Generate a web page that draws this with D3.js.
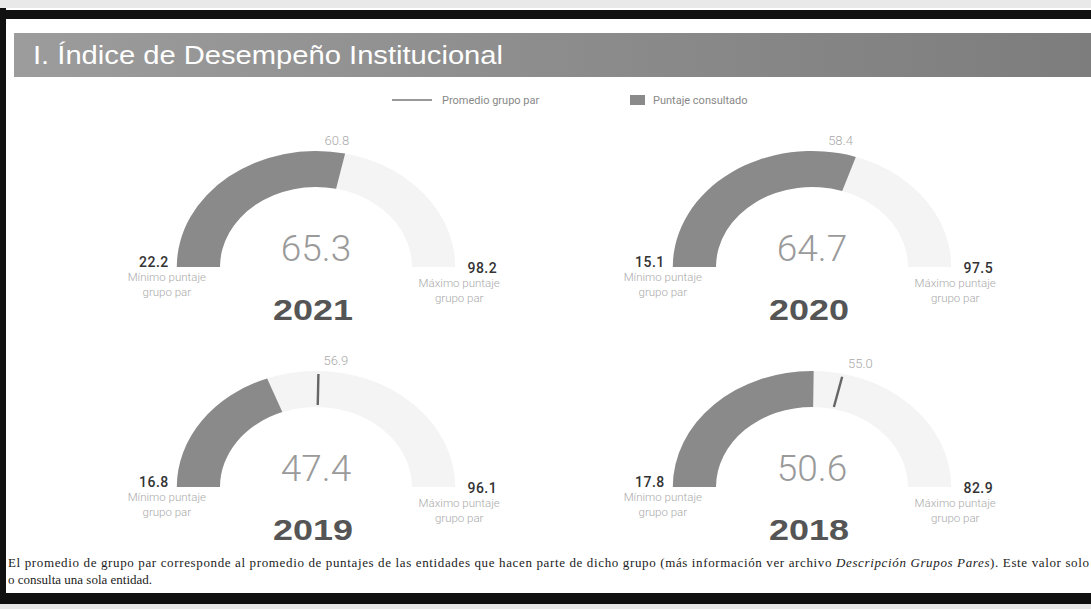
<!DOCTYPE html>
<html>
<head>
<meta charset="utf-8">
<script src="https://cdn.jsdelivr.net/npm/d3@7"></script>
<style>
  body { margin: 0; background: #e9e9e9; }
  svg { display: block; }
</style>
</head>
<body>
<script>
const years   = ["2021", "2020", "2019", "2018"];
const scores  = [65.3, 64.7, 47.4, 50.6];   // puntaje consultado
const peerAvg = [60.8, 58.4, 56.9, 55.0];   // promedio grupo par
const peerMin = [22.2, 15.1, 16.8, 17.8];
const peerMax = [98.2, 97.5, 96.1, 82.9];

const width = 1091, height = 609;
const cols = [316, 812], rows = [267, 487];
const rOut = 116, rIn = 80, sx = 1.2;   // the scan is stretched sideways

const svg = d3.select("body").append("svg")
    .attr("width", width)
    .attr("height", height);

// page + frame
svg.append("rect").attr("x", 0).attr("y", 8).attr("width", width).attr("height", 592)
    .attr("fill", "#fff");
svg.append("rect").attr("x", 0).attr("y", 8).attr("width", 6).attr("height", 592).attr("fill", "#111");
svg.append("rect").attr("x", 0).attr("y", 10).attr("width", width).attr("height", 9).attr("fill", "#111");
svg.append("rect").attr("x", 0).attr("y", 593).attr("width", width).attr("height", 11).attr("fill", "#111");

const grad = svg.append("defs").append("linearGradient").attr("id", "band");
grad.append("stop").attr("offset", "0%").attr("stop-color", "#9c9c9c");
grad.append("stop").attr("offset", "100%").attr("stop-color", "#7d7d7d");

svg.append("rect").attr("x", 14).attr("y", 33).attr("width", width - 14).attr("height", 44)
    .attr("fill", "url(#band)");
svg.append("text")
    .attr("x", 33).attr("y", 64)
    .attr("fill", "#fff")
    .style("font-family", "Liberation Sans, Arial")
    .attr("font-size", 25)
    .attr("textLength", 470).attr("lengthAdjust", "spacingAndGlyphs")
    .text("I. Índice de Desempeño Institucional");

// legend
const leg = svg.append("g").style("font-family", "Roboto, sans-serif").attr("font-size", 11).attr("fill", "#888");
leg.append("line").attr("x1", 392).attr("x2", 432).attr("y1", 100).attr("y2", 100)
    .attr("stroke", "#777").attr("stroke-width", 1.5);
leg.append("text").attr("x", 442).attr("y", 104).text("Promedio grupo par");
leg.append("rect").attr("x", 630).attr("y", 95).attr("width", 15).attr("height", 10).attr("fill", "#8a8a8a");
leg.append("text").attr("x", 653).attr("y", 104).text("Puntaje consultado");

const arc = d3.arc().innerRadius(rIn).outerRadius(rOut);

years.forEach((yr, i) => {
  const cx = cols[i % 2], cy = rows[Math.floor(i / 2)];
  const a = d3.scaleLinear().domain([peerMin[i], peerMax[i]]).range([-Math.PI / 2, Math.PI / 2]);

  const g = svg.append("g").attr("transform", `translate(${cx},${cy})`);
  const arcs = g.append("g").attr("transform", `scale(${sx},1)`);

  arcs.append("path")
      .attr("d", arc({startAngle: -Math.PI / 2, endAngle: Math.PI / 2}))
      .attr("fill", "#f4f4f4");

  // marker goes under the score arc (hidden when score > promedio)
  const t = a(peerAvg[i]);
  arcs.append("line")
      .attr("x1", (rIn + 2) * Math.sin(t)).attr("y1", -(rIn + 2) * Math.cos(t))
      .attr("x2", (rOut - 3) * Math.sin(t)).attr("y2", -(rOut - 3) * Math.cos(t))
      .attr("stroke", "#666").attr("stroke-width", 2);

  arcs.append("path")
      .attr("d", arc({startAngle: -Math.PI / 2, endAngle: a(scores[i])}))
      .attr("fill", "#8a8a8a");

  // promedio label near the marker
  g.append("text")
      .attr("x", sx * rOut * Math.sin(t) + 5)
      .attr("y", -rOut * Math.cos(t) - 6)
      .attr("fill", "#aaa")
      .style("font-family", "Roboto, sans-serif").attr("font-weight", 300)
      .attr("font-size", 13)
      .text(d3.format(".1f")(peerAvg[i]));

  g.append("text")
      .attr("x", 0).attr("y", -6)
      .attr("text-anchor", "middle")
      .attr("fill", "#9a9a9a")
      .style("font-family", "Roboto, sans-serif").attr("font-weight", 300)
      .attr("font-size", 37)
      .text(d3.format(".1f")(scores[i]));

  g.append("text")
      .attr("x", -3).attr("y", 53)
      .attr("text-anchor", "middle")
      .attr("fill", "#555")
      .style("font-family", "Liberation Sans, Arial").attr("font-weight", "bold")
      .attr("font-size", 30)
      .attr("textLength", 80).attr("lengthAdjust", "spacingAndGlyphs")
      .text(yr);

  const ex = sx * rOut;
  const num = (x, y, v) => g.append("text")
      .attr("x", x).attr("y", y).attr("text-anchor", "end")
      .attr("fill", "#333")
      .style("font-family", "Roboto, sans-serif").attr("font-weight", 500)
      .attr("font-size", 14).attr("letter-spacing", 0.5)
      .text(d3.format(".1f")(v));
  const sub = (x, y, lines) => lines.forEach((s, k) => g.append("text")
      .attr("x", x).attr("y", y + k * 15).attr("text-anchor", "middle")
      .attr("fill", "#aaa")
      .style("font-family", "Roboto, sans-serif").attr("font-weight", 300)
      .attr("font-size", 11.5)
      .text(s));

  num(-ex - 8, 0, peerMin[i]);
  sub(-ex - 10, 14, ["Mínimo puntaje", "grupo par"]);
  num(ex + 42, 6, peerMax[i]);
  sub(ex + 4, 20, ["Máximo puntaje", "grupo par"]);
});

// nota al pie
const foot = svg.append("g").style("font-family", "Liberation Serif, Times New Roman, serif")
    .attr("font-size", 13).attr("fill", "#222");
const l1 = foot.append("text").attr("x", 8).attr("y", 567)
    .attr("textLength", 1081).attr("lengthAdjust", "spacing");
l1.append("tspan").text("El promedio de grupo par corresponde al promedio de puntajes de las entidades que hacen parte de dicho grupo (más información ver archivo ");
l1.append("tspan").attr("font-style", "italic").text("Descripción Grupos Pares");
l1.append("tspan").text("). Este valor solo");
foot.append("text").attr("x", 8).attr("y", 584).text("o consulta una sola entidad.");
</script>
</body>
</html>
